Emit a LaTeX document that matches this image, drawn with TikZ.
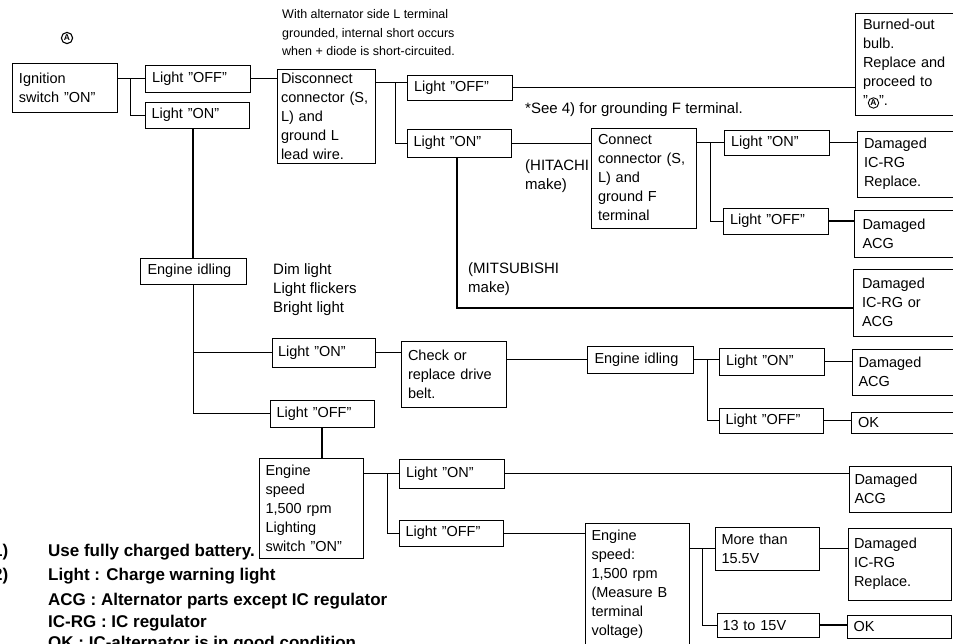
\documentclass[tikz,border=0pt]{standalone}
\usepackage{fontspec}
\setmainfont{Liberation Sans}
\newcommand{\circA}{\tikz[baseline=(cA.base)]{\node[circle, draw, line width=0.9pt, inner sep=0.7pt, minimum width=0pt, minimum height=0pt, text width={}, align=center, font=\bfseries\fontsize{8.5}{8.5}\selectfont] (cA) {A};}}
\begin{document}
\begin{tikzpicture}[x=1pt,y=-1pt,
  bx/.style 2 args={draw, line width=1pt, inner sep=0pt, align=left, text width=91pt,
    minimum width=#1pt, minimum height=#2pt,
    font=\fontsize{14.5}{19}\selectfont},
  ln/.style={line width=1pt},
  md/.style={line width=1.4pt},
  tk/.style={line width=1.9pt},
  note/.style={font=\fontsize{15}{19}\selectfont, anchor=base west, inner sep=0pt},
  topnote/.style={font=\fontsize{12.5}{18}\selectfont, anchor=base west, inner sep=0pt},
  foot/.style={font=\bfseries\fontsize{17}{24}\selectfont, anchor=base west, inner sep=0pt}]
\useasboundingbox (0,0) rectangle (953,643);
\clip (0,0) rectangle (953,643);

% ---------- boxes ----------
\node[bx={105}{49}] (ign) at (64.5,87.5) {Ignition\\switch ''ON''};
\node[bx={105}{27}] (off1) at (197.5,78.5) {Light ''OFF''};
\node[bx={104}{26}] (on1) at (197,115) {Light ''ON''};
\node[bx={98}{94}, text width=90pt] (disc) at (326,116) {Disconnect\\connector (S,\\L) and\\ground L\\lead wire.};
\node[bx={105}{25}] (off2) at (459.5,87.5) {Light ''OFF''};
\node[bx={104}{28}] (on2) at (459,143) {Light ''ON''};
\node[bx={107}{102}] (burn) at (908.5,64) {Burned-out\\bulb.\\Replace and\\proceed to\\''\circA''.};
\node[bx={105}{100}] (conn) at (643.5,178) {Connect\\connector (S,\\L) and\\ground F\\terminal};
\node[bx={105}{25}] (on3) at (776.5,142.5) {Light ''ON''};
\node[bx={105}{66}] (dicrg1) at (909.5,164) {Damaged\\IC-RG\\Replace.};
\node[bx={105}{26}] (off3) at (775.5,221) {Light ''OFF''};
\node[bx={108}{47}] (dacg1) at (908,233.5) {Damaged\\ACG};
\node[bx={109}{67}] (dia) at (907.5,302.5) {Damaged\\IC-RG or\\ACG};
\node[bx={106}{26}] (idle1) at (193,271) {Engine idling};
\node[bx={103}{29}] (on4) at (323.5,352.5) {Light ''ON''};
\node[bx={104}{27}] (off4) at (322,413.5) {Light ''OFF''};
\node[bx={105}{66}] (check) at (453.5,374) {Check or\\replace drive\\belt.};
\node[bx={106}{27}] (idle2) at (640,359.5) {Engine idling};
\node[bx={105}{27}] (on5) at (771.5,361.5) {Light ''ON''};
\node[bx={104}{25}] (off5) at (771,420.5) {Light ''OFF''};
\node[bx={104}{46}] (dacg2) at (904,372) {Damaged\\ACG};
\node[bx={105}{21}] (ok1) at (903.5,422.5) {OK};
\node[bx={104}{100}] (speed1) at (311,508) {Engine\\speed\\1,500 rpm\\Lighting\\switch ''ON''};
\node[bx={105}{29}] (on6) at (451.5,473.5) {Light ''ON''};
\node[bx={104}{26}] (off6) at (451,533) {Light ''OFF''};
\node[bx={102}{46}] (dacg3) at (900,489) {Damaged\\ACG};
\node[bx={104}{123}] (speed2) at (637,584.5) {Engine\\speed:\\1,500 rpm\\(Measure B\\terminal\\voltage)};
\node[bx={104}{43}] (more) at (767,548.5) {More than\\15.5V};
\node[bx={102}{24}] (v1315) at (768,625) {13 to 15V};
\node[bx={103}{72}] (dicrg2) at (899.5,564) {Damaged\\IC-RG\\Replace.};
\node[bx={104}{23}] (ok2) at (899,626.5) {OK};

% ---------- junctions ----------
\coordinate (j1) at (130,0);
\coordinate (j2) at (395,82);
\coordinate (j3) at (457,308);
\coordinate (j4) at (710,0);
\coordinate (j5) at (707,0);
\coordinate (j7) at (387,0);
\coordinate (j8) at (702,0);

% ---------- connectors ----------
\draw[ln] (ign.east |- off1.west) -- (off1.west);
\draw[ln] (j1 |- off1.west) |- (on1.west);
\draw[md] (on1.south -| idle1.north) -- (idle1.north);
\draw[ln] (off1.east) -- (off1.east -| disc.west);
\draw[ln] (disc.east |- j2) -- (off2.west |- j2);
\draw[ln] (j2) |- (on2.west);
\draw[tk] (off2.east) -- (off2.east -| burn.west);
\draw[ln] (on2.east) -- (on2.east -| conn.west);
\draw[tk] (on2.south -| j3) -- (j3) -- (j3 -| dia.west);
\draw[ln] (conn.east |- on3.west) -- (on3.west);
\draw[ln] (j4 |- on3.west) |- (off3.west);
\draw[tk] (on3.east) -- (on3.east -| dicrg1.west);
\draw[tk] (off3.east) -- (off3.east -| dacg1.west);
\draw[ln] (idle1.south) |- (off4.west);
\draw[ln] (idle1.south |- on4.west) -- (on4.west);
\draw[ln] (on4.east) -- (on4.east -| check.west);
\draw[ln] (check.east |- idle2.west) -- (idle2.west);
\draw[ln] (idle2.east) -- (idle2.east -| on5.west);
\draw[ln] (j5 |- idle2.east) |- (off5.west);
\draw[md] (on5.east) -- (on5.east -| dacg2.west);
\draw[md] (off5.east) -- (off5.east -| ok1.west);
\draw[md] (off4.south) -- (off4.south |- speed1.north);
\draw[ln] (speed1.east |- on6.west) -- (on6.west);
\draw[ln] (j7 |- on6.west) |- (off6.west);
\draw[md] (on6.east) -- (on6.east -| dacg3.west);
\draw[ln] (off6.east) -- (off6.east -| speed2.west);
\draw[ln] (speed2.east |- more.west) -- (more.west);
\draw[ln] (j8 |- more.west) |- (v1315.west);
\draw[tk] (more.east) -- (more.east -| dicrg2.west);
\draw[tk] (v1315.east) -- (v1315.east -| ok2.west);

% ---------- annotations ----------
\node[circle, draw, line width=1.1pt, inner sep=1pt, font=\bfseries\fontsize{8.5}{8.5}\selectfont] (markA) at (67,38) {A};
\node[topnote] (t1) at (282,18) {With alternator side L terminal};
\node[topnote] (t2) at (282,37) {grounded, internal short occurs};
\node[topnote] (t3) at (282,55) {when + diode is short-circuited.};
\node[note] (see) at (525,113) {*See 4) for grounding F terminal.};
\node[note] (hit1) at (525,170) {(HITACHI};
\node[note] (hit2) at (525,189) {make)};
\node[note] (mit1) at (468,273) {(MITSUBISHI};
\node[note] (mit2) at (468,292) {make)};
\node[note] (dim1) at (273,274) {Dim light};
\node[note] (dim2) at (273,293) {Light flickers};
\node[note] (dim3) at (273,312) {Bright light};

% ---------- footnotes ----------
\node[foot] (f1n) at (-7,556) {1)};
\node[foot] (f1) at (48,556) {Use fully charged battery.};
\node[foot] (f2n) at (-7,580) {2)};
\node[foot] (f2) at (48,580) {Light : Charge warning light};
\node[foot] (f3) at (48,605) {ACG : Alternator parts except IC regulator};
\node[foot] (f4) at (48,627) {IC-RG : IC regulator};
\node[foot] (f5) at (48,648) {OK : IC-alternator is in good condition.};
\end{tikzpicture}
\end{document}
